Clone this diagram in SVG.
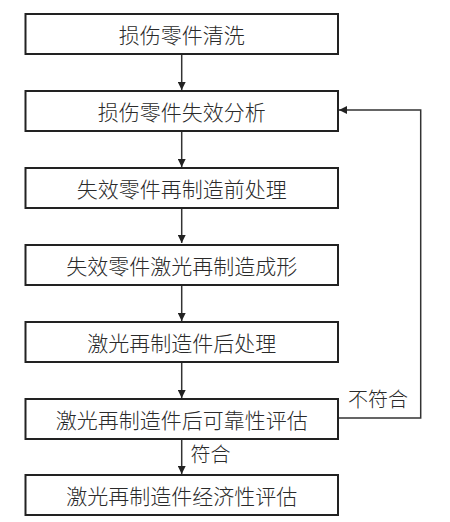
<svg xmlns="http://www.w3.org/2000/svg" width="450" height="522" viewBox="0 0 450 522">
<style>
.box{fill:#fff;stroke:#222;stroke-width:2}
.t{font-family:"Noto Sans CJK SC","Noto Sans",sans-serif;font-size:21px;font-weight:300;fill:#2a2a2a;text-anchor:middle;dominant-baseline:central}
.l{font-family:"Noto Sans CJK SC","Noto Sans",sans-serif;font-size:20px;font-weight:300;fill:#2a2a2a;dominant-baseline:central}
.c{fill:none;stroke:#333;stroke-width:1.5}
</style>
<defs>
<marker id="a" markerWidth="8" markerHeight="8" refX="8" refY="4" orient="auto" markerUnits="userSpaceOnUse">
<path d="M0,0 L8,4 L0,8 Z" fill="#222"/>
</marker>
</defs>
<rect width="450" height="522" fill="#fff"/>
<g id="connectors">
<line class="c" x1="181.7" y1="55" x2="181.7" y2="90" marker-end="url(#a)"/>
<line class="c" x1="181.7" y1="132" x2="181.7" y2="167" marker-end="url(#a)"/>
<line class="c" x1="181.7" y1="209" x2="181.7" y2="243" marker-end="url(#a)"/>
<line class="c" x1="181.7" y1="286" x2="181.7" y2="321" marker-end="url(#a)"/>
<line class="c" x1="181.7" y1="363" x2="181.7" y2="398" marker-end="url(#a)"/>
<line class="c" x1="181.7" y1="440" x2="181.7" y2="474" marker-end="url(#a)"/>
<polyline class="c" points="339,418 420.7,418 420.7,110 339,110" marker-end="url(#a)"/>
<text class="l" x="348" y="398">不符合</text>
<text class="l" x="190.5" y="453">符合</text>
</g>
<g id="n1"><rect class="box" x="25.5" y="14" width="312.5" height="40"/><text class="t" x="181.7" y="34">损伤零件清洗</text></g>
<g id="n2"><rect class="box" x="25.5" y="91" width="312.5" height="40"/><text class="t" x="181.7" y="111">损伤零件失效分析</text></g>
<g id="n3"><rect class="box" x="25.5" y="168" width="312.5" height="40"/><text class="t" x="181.7" y="188">失效零件再制造前处理</text></g>
<g id="n4"><rect class="box" x="25.5" y="245" width="312.5" height="40"/><text class="t" x="181.7" y="265">失效零件激光再制造成形</text></g>
<g id="n5"><rect class="box" x="25.5" y="322" width="312.5" height="40"/><text class="t" x="181.7" y="342">激光再制造件后处理</text></g>
<g id="n6"><rect class="box" x="25.5" y="399" width="312.5" height="40"/><text class="t" x="181.7" y="419">激光再制造件后可靠性评估</text></g>
<g id="n7"><rect class="box" x="25.5" y="475" width="312.5" height="40"/><text class="t" x="181.7" y="495">激光再制造件经济性评估</text></g>
</svg>
